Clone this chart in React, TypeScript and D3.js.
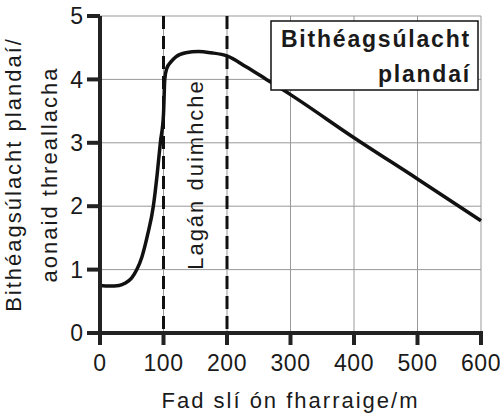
import React, { useRef, useEffect } from 'react';
import * as d3 from 'd3';

// distance from sea (m) and plant biodiversity (units)
const distance = [0, 15, 30, 40, 50, 58, 66, 75, 84, 90, 95, 100, 102, 105, 112, 120, 135, 155, 175, 200, 230, 262, 300, 400, 500, 600];
const biodiversity = [0.75, 0.74, 0.75, 0.79, 0.87, 1.0, 1.2, 1.55, 2.0, 2.5, 3.0, 3.45, 4.0, 4.17, 4.28, 4.36, 4.42, 4.44, 4.42, 4.37, 4.2, 4.0, 3.76, 3.08, 2.43, 1.77];

const xTicks = [0, 100, 200, 300, 400, 500, 600];
const yTicks = [0, 1, 2, 3, 4, 5];
const dunePlacement = [100, 200];

const xTitle = 'Fad slí ón fharraige/m';
const yTitle = ['Bithéagsúlacht plandaí/', 'aonaid threallacha'];
const zoneLabel = 'Lagán duimhche';
const legendLines = ['Bithéagsúlacht', 'plandaí'];

const font = '"Liberation Sans", Arial, Helvetica, sans-serif';

const App: React.FC = () => {
  const ref = useRef<SVGSVGElement>(null);

  useEffect(() => {
    const svg = d3.select(ref.current);
    svg.selectAll('*').remove();

    const left = 100, right = 481, top = 16, bottom = 333;
    const x = d3.scaleLinear().domain([0, 600]).range([left, right]);
    const y = d3.scaleLinear().domain([0, 5]).range([bottom, top]);

    // grid
    const grid = svg.append('g').attr('stroke', '#999').attr('stroke-width', 1);
    grid.selectAll('line.h').data(yTicks.slice(1)).enter().append('line')
      .attr('x1', left).attr('x2', right)
      .attr('y1', d => y(d)).attr('y2', d => y(d));
    grid.selectAll('line.v').data(xTicks.slice(1)).enter().append('line')
      .attr('y1', top).attr('y2', bottom)
      .attr('x1', d => x(d)).attr('x2', d => x(d));

    // dashed zone boundaries
    svg.append('g').selectAll('line').data(dunePlacement).enter().append('line')
      .attr('x1', d => x(d)).attr('x2', d => x(d))
      .attr('y1', top).attr('y2', bottom)
      .attr('stroke', '#111').attr('stroke-width', 3)
      .attr('stroke-dasharray', '13,7');

    // zone label
    svg.append('text')
      .attr('transform', `translate(${x(150) + 8},${(top + bottom) / 2}) rotate(-90)`)
      .attr('text-anchor', 'middle')
      .attr('font-family', font).attr('font-size', 22).attr('letter-spacing', 2)
      .attr('fill', '#1a1a1a')
      .text(zoneLabel);

    // curve
    const line = d3.line<number>()
      .x((d, i) => x(distance[i]))
      .y(d => y(d))
      .curve(d3.curveMonotoneX);
    svg.append('path')
      .datum(biodiversity)
      .attr('d', line as any)
      .attr('fill', 'none')
      .attr('stroke', '#111')
      .attr('stroke-width', 3.5);

    // legend box
    const lg = svg.append('g');
    lg.append('rect')
      .attr('x', 271).attr('y', 21).attr('width', 207).attr('height', 69)
      .attr('fill', '#fff').attr('stroke', '#111').attr('stroke-width', 1.5);
    lg.selectAll('text').data(legendLines).enter().append('text')
      .attr('x', 471).attr('y', (d, i) => 47 + i * 35)
      .attr('text-anchor', 'end')
      .attr('font-family', font).attr('font-size', 23).attr('font-weight', 'bold')
      .attr('letter-spacing', 1.8)
      .attr('fill', '#1a1a1a')
      .text(d => d);

    // axes
    const axes = svg.append('g').attr('stroke', '#222').attr('stroke-width', 4);
    axes.append('line').attr('x1', left).attr('x2', left).attr('y1', top).attr('y2', bottom + 2);
    axes.append('line').attr('x1', left - 2).attr('x2', right + 2).attr('y1', bottom).attr('y2', bottom);
    axes.selectAll('line.yt').data(yTicks).enter().append('line')
      .attr('x1', left - 13).attr('x2', left)
      .attr('y1', d => y(d)).attr('y2', d => y(d));
    axes.selectAll('line.xt').data(xTicks).enter().append('line')
      .attr('x1', d => x(d)).attr('x2', d => x(d))
      .attr('y1', bottom).attr('y2', bottom + 12);

    // tick labels
    svg.append('g').selectAll('text').data(yTicks).enter().append('text')
      .attr('x', left - 17).attr('y', d => y(d))
      .attr('dy', '0.36em')
      .attr('text-anchor', 'end')
      .attr('font-family', font).attr('font-size', 23)
      .attr('fill', '#1a1a1a')
      .text(d => String(d));
    svg.append('g').selectAll('text').data(xTicks).enter().append('text')
      .attr('x', d => x(d)).attr('y', 371)
      .attr('text-anchor', 'middle')
      .attr('font-family', font).attr('font-size', 23).attr('letter-spacing', 0.5)
      .attr('fill', '#1a1a1a')
      .text(d => String(d));

    // axis titles
    svg.append('text')
      .attr('x', (left + right) / 2).attr('y', 408)
      .attr('text-anchor', 'middle')
      .attr('font-family', font).attr('font-size', 22).attr('letter-spacing', 2)
      .attr('fill', '#1a1a1a')
      .text(xTitle);
    svg.append('g').selectAll('text').data(yTitle).enter().append('text')
      .attr('transform', (d, i) => `translate(${21 + i * 36},${(top + bottom) / 2}) rotate(-90)`)
      .attr('text-anchor', 'middle')
      .attr('font-family', font).attr('font-size', 22).attr('letter-spacing', 2)
      .attr('fill', '#1a1a1a')
      .text(d => d);
  }, []);

  return (
    <svg ref={ref} width={500} height={416}
      style={{ position: 'absolute', left: 0, top: 0, background: '#fff' }} />
  );
};

export default App;
